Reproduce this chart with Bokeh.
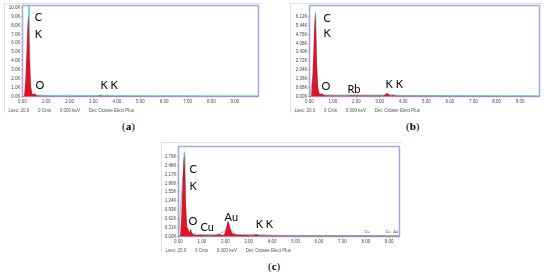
from bokeh.plotting import figure
from bokeh.models import Range1d, FixedTicker, Title, Div, Spacer
from bokeh.layouts import column, row
from bokeh.core.properties import value
from bokeh.embed import file_html
from bokeh.resources import INLINE

# ---------------- data ----------------
x_ticks = [0, 1, 2, 3, 4, 5, 6, 7, 8, 9]
x_tick_labels = ["0.00", "1.00", "2.00", "3.00", "4.00", "5.00", "6.00", "7.00", "8.00", "9.00"]

# panel (a)
y_ticks_a = [0, 1000, 2000, 3000, 4000, 5000, 6000, 7000, 8000, 9000, 10000]
y_labels_a = ["0.0K", "1.0K", "2.0K", "3.0K", "4.0K", "5.0K", "6.0K", "7.0K", "8.0K", "9.0K", "10.0K"]
energy_a = [0.00, 0.07, 0.12, 0.18, 0.22, 0.25, 0.28, 0.32, 0.36, 0.42, 0.47, 0.52, 0.57,
            0.62, 0.80, 1.50, 2.50, 3.20, 3.31, 3.42, 3.52, 3.59, 3.68, 4.50, 6.00, 8.00, 10.00]
counts_a = [0, 60, 1800, 5600, 8400, 9100, 7200, 3300, 1100, 300, 280, 340, 200,
            120, 90, 70, 60, 60, 130, 60, 60, 100, 55, 45, 35, 25, 20]
cyan_e_a = [0.00, 0.22, 0.26, 0.28, 0.33, 0.50, 0.52, 0.56, 1.00, 3.28, 3.31, 3.36, 3.59, 3.64, 10.00]
cyan_c_a = [0, 120, 11500, 11500, 220, 150, 300, 150, 130, 110, 200, 110, 150, 100, 60]
labels_a = ["C", "K", "O", "K K"]
label_x_a = [0.52, 0.52, 0.55, 3.30]
label_y_a = [9000, 7100, 1300, 1300]

# panel (b)
y_ticks_b = [0, 680, 1360, 2040, 2720, 3400, 4080, 4760, 5440, 6120]
y_labels_b = ["0.00K", "0.68K", "1.36K", "2.04K", "2.72K", "3.40K", "4.08K", "4.76K", "5.44K", "6.12K"]
energy_b = [0.00, 0.07, 0.12, 0.18, 0.22, 0.25, 0.28, 0.32, 0.36, 0.42, 0.47, 0.52, 0.57, 0.65,
            1.00, 1.69, 1.75, 2.50, 3.15, 3.25, 3.31, 3.38, 3.48, 3.59, 3.70, 4.50, 6.00, 8.00, 9.90]
counts_b = [0, 50, 1300, 4000, 5900, 6350, 5000, 2300, 800, 220, 170, 240, 150, 100,
            80, 80, 100, 70, 70, 180, 270, 180, 70, 110, 60, 50, 40, 30, 25]
cyan_e_b = [0.00, 0.20, 0.25, 0.27, 0.30, 0.36, 0.50, 0.52, 0.56, 1.00, 3.28, 3.31, 3.36, 3.59, 3.64, 9.90]
cyan_c_b = [0, 2000, 6400, 6300, 2600, 250, 150, 230, 140, 110, 110, 260, 110, 150, 90, 50]
labels_b = ["C", "K", "O", "Rb", "K K"]
label_x_b = [0.60, 0.60, 0.51, 1.62, 3.25]
label_y_b = [6050, 4850, 820, 600, 970]

# panel (c)
y_ticks_c = [0, 310, 620, 930, 1240, 1550, 1860, 2170, 2480, 2790]
y_labels_c = ["0.00K", "0.31K", "0.62K", "0.93K", "1.24K", "1.55K", "1.86K", "2.17K", "2.48K", "2.79K"]
energy_c = [0.00, 0.07, 0.12, 0.18, 0.22, 0.25, 0.28, 0.32, 0.36, 0.42, 0.47, 0.52, 0.57, 0.65,
            0.80, 0.93, 1.05, 1.30, 1.60, 1.74, 1.85, 1.95, 2.03, 2.09, 2.12, 2.16, 2.22, 2.30,
            2.45, 2.80, 3.20, 3.31, 3.42, 4.00, 5.00, 7.00, 8.05, 8.90, 9.45]
counts_c = [0, 40, 700, 2000, 2700, 2880, 2300, 1000, 350, 260, 150, 270, 120, 70,
            55, 65, 50, 45, 50, 90, 50, 70, 250, 480, 540, 450, 250, 120,
            70, 50, 45, 80, 45, 35, 30, 25, 30, 25, 20]
cyan_e_c = [0.00, 0.20, 0.25, 0.27, 0.30, 0.36, 0.50, 0.52, 0.56, 1.00, 1.74, 2.00, 2.12, 2.25,
            2.50, 3.31, 4.00, 9.45]
cyan_c_c = [0, 2300, 2950, 2900, 1200, 200, 120, 250, 110, 60, 80, 200, 520, 200,
            60, 70, 40, 25]
labels_c = ["C", "K", "O", "Cu", "Au", "K K"]
label_x_c = [0.47, 0.47, 0.43, 0.94, 1.97, 3.30]
label_y_c = [2350, 1770, 540, 340, 680, 440]
small_labels_c = ["Cu", "Cu", "Au"]
small_x_c = [8.05, 8.95, 9.28]
small_y_c = [170, 170, 170]

NB = "\u00a0" * 7
status_text = "Lsec: 20.0" + NB + "0 Cnts" + NB + "0.000 keV" + NB + "Det: Octane Elect Plus"

RED = "#e00012"
CYAN = "#3fc9cf"
PURPLE = "#a6a6de"


def panel(w, h, bl, br, bt, bb, xmax, ymax, yt, yl, e, c, ce, cc, labs, lx, ly):
    p = figure(width=w, height=h, x_range=Range1d(0, xmax), y_range=Range1d(0, ymax),
               output_backend="svg", toolbar_location=None,
               min_border_left=bl, min_border_right=br, min_border_top=bt, min_border_bottom=bb,
               background_fill_color="white", border_fill_color="white",
               styles={"outline": "1px solid #d6d6d6", "outline-offset": "-1px",
                       "will-change": "transform"})
    p.grid.visible = False
    p.outline_line_color = PURPLE
    p.outline_line_width = 1.5
    p.line(ce, cc, line_color=CYAN, line_width=0.8)
    p.varea(x=e, y1=0, y2=c, fill_color=RED, fill_alpha=0.92)
    p.text(x=lx, y=ly, text=labs, text_font=value("Lato"), text_font_size="11px",
           text_baseline="middle", text_align="left", text_color="black")
    for ax in (p.xaxis[0], p.yaxis[0]):
        ax.axis_line_color = None
        ax.major_tick_line_color = "#888888"
        ax.major_tick_out = 1
        ax.major_tick_in = 0
        ax.minor_tick_line_color = None
        ax.major_label_text_font_size = "4.5px"
        ax.major_label_text_color = "#444444"
        ax.major_label_standoff = 1
    p.xaxis.ticker = FixedTicker(ticks=x_ticks)
    p.xaxis.major_label_overrides = dict(zip(x_ticks, x_tick_labels))
    p.yaxis.ticker = FixedTicker(ticks=yt)
    p.yaxis.major_label_overrides = dict(zip(yt, yl))
    p.add_layout(Title(text=status_text, align="left", offset=-(bl - 4), text_font_size="4.5px",
                       text_font_style="normal", text_color="#555555", standoff=1), "below")
    return p


def label_div(letter, w, left):
    return Div(text='<div style="position:relative; left:%dpx; top:5px; font-family:\'Liberation Serif\'; '
                    'font-size:11px; line-height:12px; color:black;">(<b>%s</b>)</div>' % (left, letter),
               width=w, height=19, margin=0)


pa = panel(257, 110, 18, 3, 2, 15, 10.0, 10200, y_ticks_a, y_labels_a, energy_a, counts_a,
           cyan_e_a, cyan_c_a, labels_a, label_x_a, label_y_a)
pb = panel(252, 110, 19, 3, 2, 15, 9.83, 6940, y_ticks_b, y_labels_b, energy_b, counts_b,
           cyan_e_b, cyan_c_b, labels_b, label_x_b, label_y_b)
pc = panel(241, 111, 17, 3, 4, 15, 9.44, 3130, y_ticks_c, y_labels_c, energy_c, counts_c,
           cyan_e_c, cyan_c_c, labels_c, label_x_c, label_y_c)
pc.text(x=small_x_c, y=small_y_c, text=small_labels_c, text_font=value("Lato"), text_font_size="4px",
        text_baseline="middle", text_align="center", text_color="#444444")

layout = column(
    Spacer(width=10, height=3, margin=0),
    row(Spacer(width=4, height=10, margin=0), column(pa, label_div("a", 257, 118)),
        Spacer(width=29, height=10, margin=0), column(pb, label_div("b", 252, 116))),
    Spacer(width=10, height=10, margin=0),
    row(Spacer(width=161, height=10, margin=0), column(pc, label_div("c", 241, 107))),
)

open("out.html", "w").write(file_html(layout, INLINE))
